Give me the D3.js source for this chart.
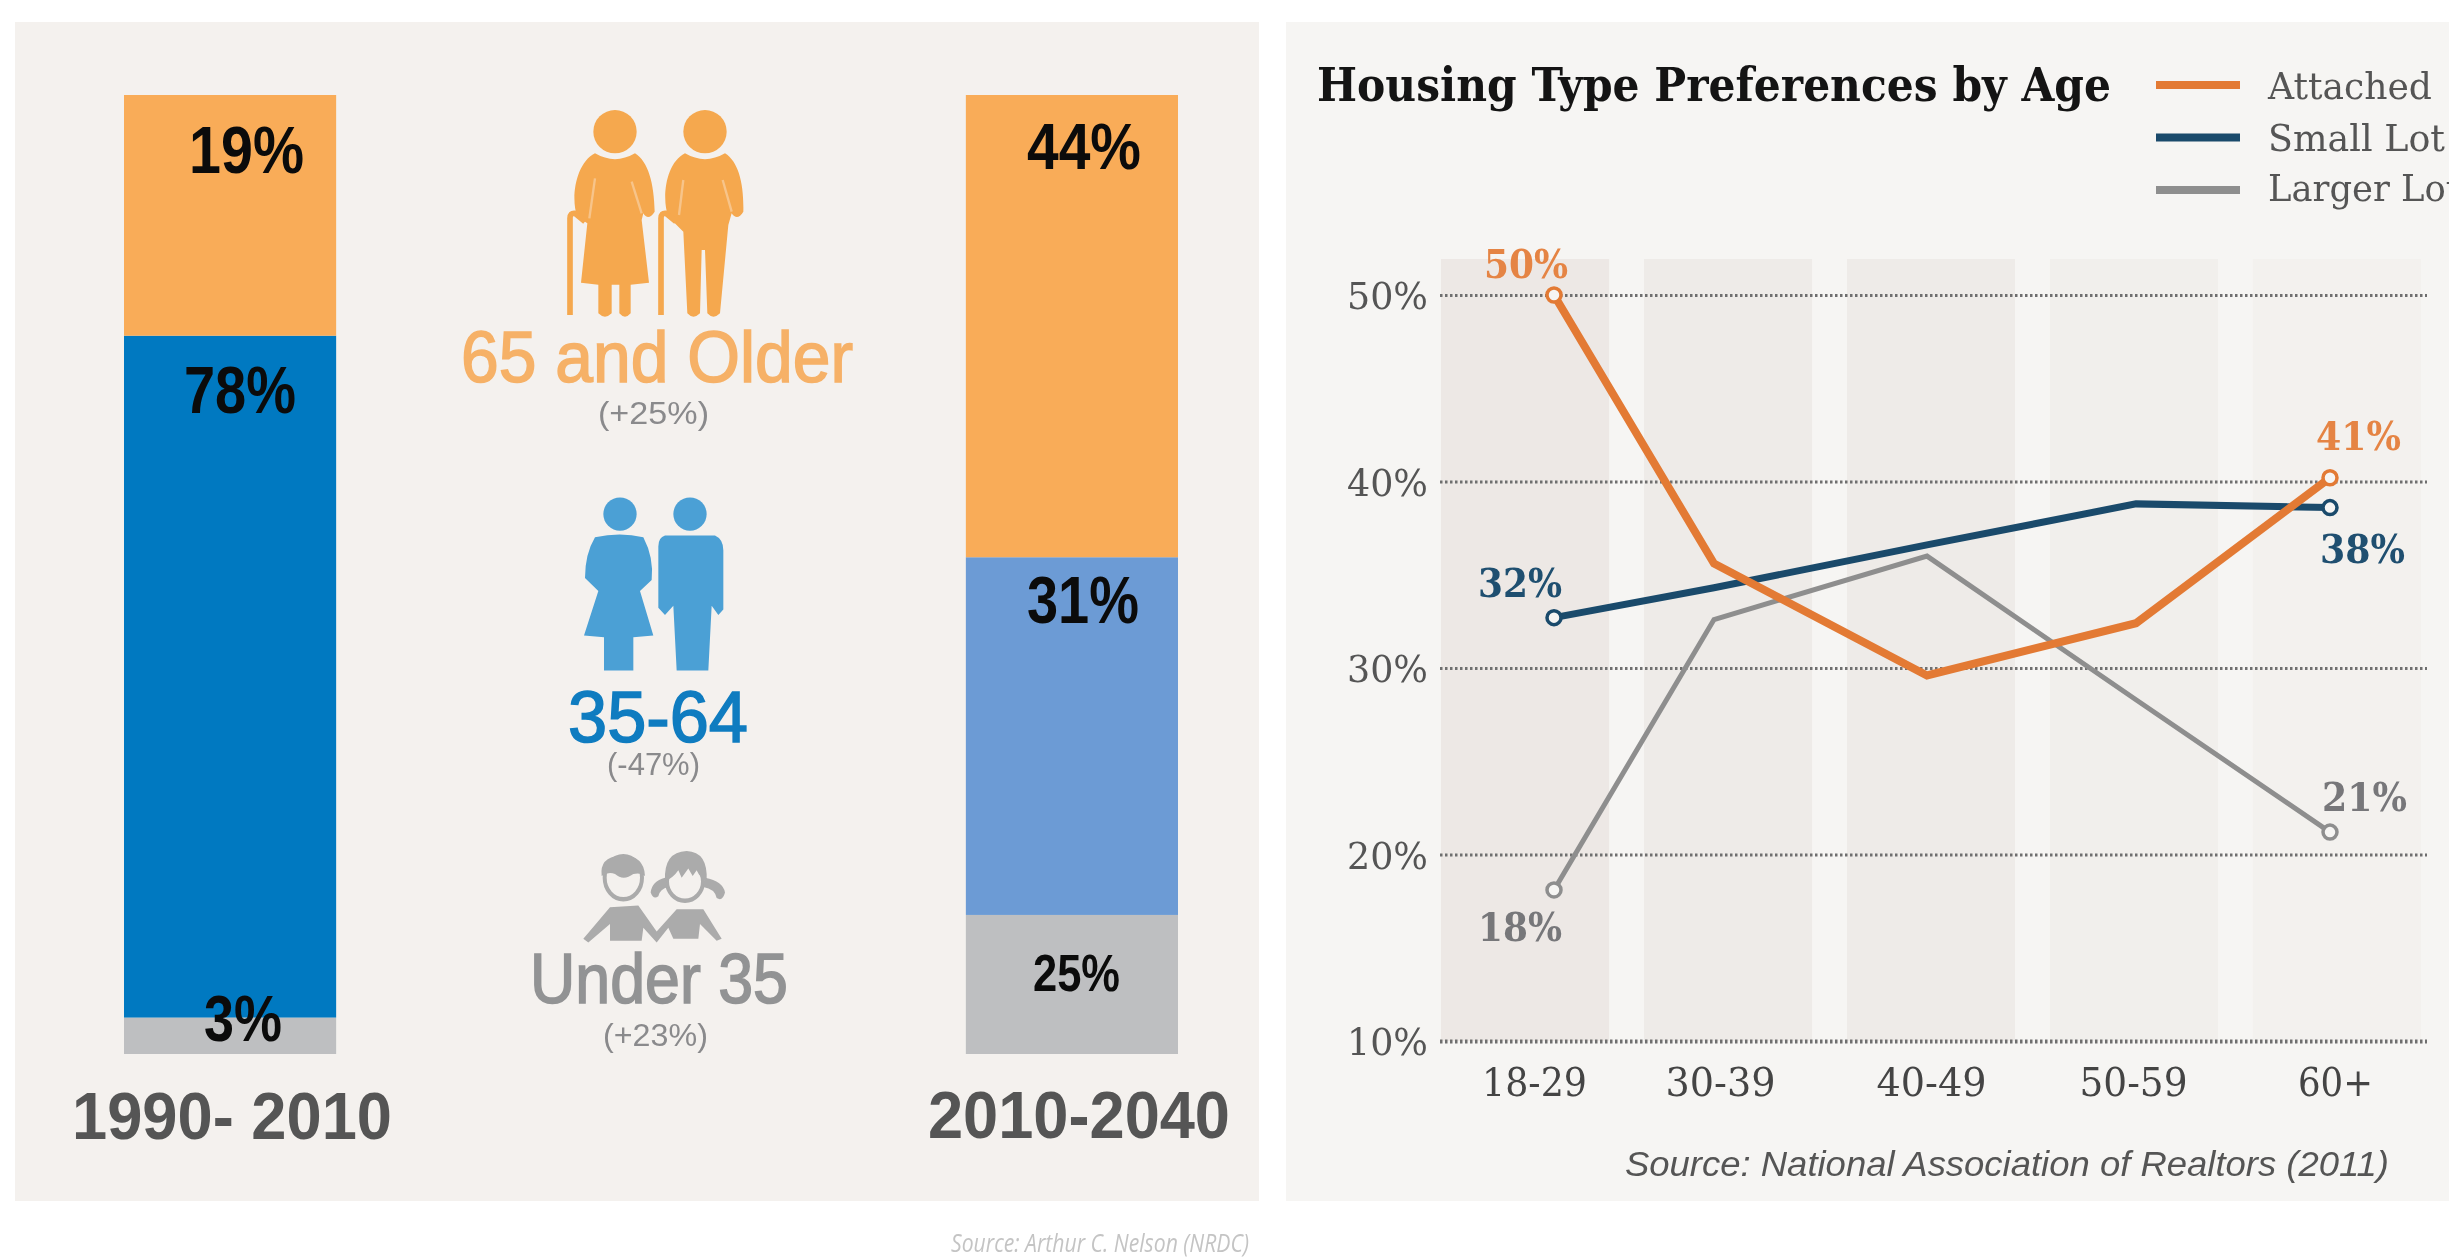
<!DOCTYPE html>
<html><head><meta charset="utf-8">
<style>html,body{margin:0;padding:0;background:#fff;overflow:hidden}svg{display:block;filter:blur(.7px)}</style>
<script src="https://cdn.jsdelivr.net/npm/d3@7"></script></head>
<body><svg id="c" width="2449" height="1260"></svg>
<script>
// ---- data: left panel ----
const periods = ["1990- 2010", "2010-2040"];
const ageGroups = ["Under 35", "35-64", "65 and Older"];
const drawnShare1990 = [3.8, 71.1, 25.1];   // bar segment sizes as drawn
const drawnShare2010 = [14.5, 37.3, 48.2];
const printedLabels1990 = ["3%", "78%", "19%"];
const printedLabels2010 = ["25%", "31%", "44%"];
const groupChanges = ["(+23%)", "(-47%)", "(+25%)"];
// ---- data: right panel ----
const ageBands = ["18-29", "30-39", "40-49", "50-59", "60+"];
const attached = [50, 35.6, 29.6, 32.4, 40.2];
const smallLot = [32.7, 34.3, 36.6, 38.8, 38.6];
const largerLot = [18.1, 32.6, 36, 28.3, 21.2];
const yTicks = [10, 20, 30, 40, 50];
const seriesNames = ["Attached", "Small Lot", "Larger Lot"];
const firstLabels = ["50%", "32%", "18%"];
const lastLabels = ["41%", "38%", "21%"];

// ---- layout ----
const svg = d3.select("#c");
const SANS = "'Liberation Sans',Arial,sans-serif", SERIF = "'DejaVu Serif',serif";
const put = (g, s, x, base, w, size, fill, weight, font, extra) => {
  const t = g.append("text").attr("x", x).attr("y", base).attr("font-size", size)
    .attr("font-family", font || SANS).attr("font-weight", weight || "normal").attr("fill", fill).text(s);
  if (w) t.attr("textLength", w).attr("lengthAdjust", "spacingAndGlyphs");
  if (extra) t.attr("font-style", extra);
  return t;
};
svg.append("rect").attr("width", 2449).attr("height", 1260).attr("fill", "#fff");
svg.append("rect").attr("x", 15).attr("y", 22).attr("width", 1244).attr("height", 1179).attr("fill", "#F4F1EE");
svg.append("rect").attr("x", 1286).attr("y", 22).attr("width", 1163).attr("height", 1179).attr("fill", "#F6F5F3");

// ---- left: stacked bars ----
const left = svg.append("g");
const xBar = d3.scaleBand().domain(periods).range([124, 1178]).paddingInner(0.748).paddingOuter(0);
const yBar = d3.scaleLinear().domain([0, 100]).range([1054, 95]);
const barColors = {
  [periods[0]]: ["#BEBFC1", "#0079C1", "#F9AC58"],
  [periods[1]]: ["#BEBFC1", "#6C9BD5", "#F9AC58"]
};
[[periods[0], drawnShare1990], [periods[1], drawnShare2010]].forEach(([p, vals]) => {
  const row = Object.fromEntries(ageGroups.map((a, i) => [a, vals[i]]));
  const stacked = d3.stack().keys(ageGroups)([row]);
  left.selectAll(null).data(stacked).join("rect")
    .attr("x", xBar(p)).attr("width", xBar.bandwidth())
    .attr("y", d => yBar(d[0][1])).attr("height", d => yBar(d[0][0]) - yBar(d[0][1]))
    .attr("fill", (d, i) => barColors[p][i]);
});
const lblPos1990 = [[204, 1041, 78, 64], [184, 413, 112, 66], [189, 173, 115, 66]];
const lblPos2010 = [[1033, 991, 87, 52], [1027, 623, 112, 66], [1027, 169, 114, 64]];
printedLabels1990.forEach((s, i) => { const p = lblPos1990[i]; put(left, s, p[0], p[1], p[2], p[3], "#0b0b0b", "bold"); });
printedLabels2010.forEach((s, i) => { const p = lblPos2010[i]; put(left, s, p[0], p[1], p[2], p[3], "#0b0b0b", "bold"); });
put(left, periods[0], 72, 1139, 320, 66, "#555", "bold");
put(left, periods[1], 928, 1138, 302, 66, "#555", "bold");

// ---- left: group captions ----
const capColors = ["#929394", "#0F7CC0", "#F6B167"];
const capPos = [[530, 1003, 258, 70], [568, 742, 180, 72], [461, 382, 392, 72]];
const changePos = [[603, 1046, 105], [607, 775, 93], [598, 424, 111]];
ageGroups.forEach((s, i) => {
  put(left, s, capPos[i][0], capPos[i][1], capPos[i][2], capPos[i][3], capColors[i])
    .attr("stroke", capColors[i]).attr("stroke-width", 1.6);
  put(left, groupChanges[i], changePos[i][0], changePos[i][1], changePos[i][2], 32, "#8a8a8c");
});

// ---- left: icons ----
const BG = "#F4F1EE";
const old = left.append("g").attr("transform", "translate(500,90) scale(.33333)").attr("fill", "#F5A84E");
[345, 615].forEach(cx => old.append("circle").attr("cx", cx).attr("cy", 125).attr("r", 65));
old.append("path").attr("d", "M285,190Q345,225 405,190C445,215 462,280 464,365Q445,395 430,370L425,390L447,578L392,584L392,670Q375,690 358,670L358,584L335,584L335,670Q315,690 295,670L295,584L243,578L262,400L232,380C212,330 225,220 285,190Z");
old.append("path").attr("d", "M555,190Q615,225 675,190C715,215 732,280 730,365Q712,395 695,370L685,405L660,670Q640,690 622,670L615,480L605,480L600,670Q580,690 562,670L550,425L505,380C485,330 495,220 555,190Z");
old.selectAll(null).data(["M285,265L268,385", "M395,275L425,370", "M550,270L537,375", "M668,270L695,365"]).join("path")
  .attr("d", d => d).attr("fill", "none").attr("stroke", "#F7C48A").attr("stroke-width", 7);
old.selectAll(null).data(["M210,675L210,385Q210,368 225,370L255,395", "M483,675L483,385Q483,368 498,370L528,395"]).join("path")
  .attr("d", d => d).attr("fill", "none").attr("stroke", "#F5A84E").attr("stroke-width", 17);

const adults = left.append("g").attr("transform", "translate(500,480) scale(.33333,.37)").attr("fill", "#4BA0D5");
adults.append("ellipse").attr("cx", 360).attr("cy", 92).attr("rx", 50).attr("ry", 45);
adults.append("ellipse").attr("cx", 570).attr("cy", 92).attr("rx", 50).attr("ry", 45);
adults.append("path").attr("d", "M285,155Q360,140 430,155Q462,210 455,270L420,300L460,420L400,425L400,515L312,515L312,425L252,420L295,300L255,265Q255,200 285,155Z");
adults.append("path").attr("d", "M495,150L645,150Q670,160 670,190L670,350L655,365L635,340L625,515L530,515L520,340L495,365L475,345L475,180Q475,155 495,150Z");

const kids = left.append("g").attr("transform", "translate(500,480) scale(.33333,.37)").attr("fill", "#ABABAB");
kids.append("ellipse").attr("cx", 370).attr("cy", 1075).attr("rx", 56).attr("ry", 58).attr("fill", "none").attr("stroke", "#ABABAB").attr("stroke-width", 12);
kids.append("path").attr("d", "M305,1070Q298,1020 360,1015Q432,1012 435,1070Q420,1060 400,1065Q370,1085 345,1065Q325,1058 305,1070Z");
kids.append("ellipse").attr("cx", 555).attr("cy", 1085).attr("rx", 54).attr("ry", 52).attr("fill", "none").attr("stroke", "#ABABAB").attr("stroke-width", 12);
kids.append("path").attr("d", "M495,1085Q490,1005 560,1003Q625,1005 620,1085Q600,1075 590,1055L578,1070L565,1050L545,1075L535,1055Q520,1075 495,1085Z");
kids.append("path").attr("d", "M495,1075Q455,1085 452,1115Q460,1135 475,1125Q480,1105 505,1100Z");
kids.append("path").attr("d", "M615,1075Q670,1085 675,1115Q668,1140 650,1130Q645,1105 610,1100Z");
kids.append("path").attr("d", "M250,1240L330,1155L415,1150L470,1220L530,1160L610,1160L665,1240L650,1245L600,1200L595,1240L520,1240L505,1210L470,1250L430,1210L425,1245L330,1245L330,1200L265,1250Z");

put(svg, "Source: Arthur C. Nelson (NRDC)", 951, 1252, 298, 25, "#c4c4c4", "normal", "'Open Sans',sans-serif", "italic");

// ---- right: line chart ----
const right = svg.append("g");
const y = d3.scaleLinear().domain([10, 50]).range([1041, 295]);
const xBand = d3.scaleBand().domain(ageBands).range([1441, 2421]).paddingInner(0.172).paddingOuter(0);
const xPoint = d3.scaleOrdinal().domain(ageBands).range([1554, 1714, 1927, 2136, 2330]);
const xTick = d3.scaleOrdinal().domain(ageBands).range([1534, 1720, 1931, 2133, 2335]);
const tickWidth = [105, 110, 110, 108, 75];
const bandFill = ["#EDE8E5", "#EEEBE8", "#EEEBE8", "#F1EFEC", "#F3F1EE"];
right.selectAll(null).data(ageBands).join("rect")
  .attr("x", d => xBand(d)).attr("width", xBand.bandwidth())
  .attr("y", 259).attr("height", 1041 - 259)
  .attr("fill", (d, i) => bandFill[i]);

const yAxis = d3.axisLeft(y).tickValues(yTicks).tickFormat(d => d + "%").tickSize(-987).tickPadding(12);
const yG = right.append("g").attr("transform", "translate(1440,0)").call(yAxis);
yG.select(".domain").remove();
yG.selectAll(".tick line").attr("stroke", "#6f6f6f").attr("stroke-width", d => d === 10 ? 4 : 3).attr("stroke-dasharray", "2.5 2.5");
yG.selectAll(".tick text").attr("font-family", SERIF).attr("font-size", 38).attr("fill", "#555")
  .attr("textLength", 81).attr("lengthAdjust", "spacingAndGlyphs").attr("dy", "0.36em");

const xAxis = d3.axisBottom(xTick).tickSize(0).tickPadding(0);
const xG = right.append("g").attr("transform", "translate(0,1041)").call(xAxis);
xG.select(".domain").remove();
xG.selectAll(".tick text").attr("font-family", SERIF).attr("font-size", 39).attr("fill", "#444")
  .attr("y", 55).attr("dy", 0)
  .attr("textLength", (d, i) => tickWidth[i]).attr("lengthAdjust", "spacingAndGlyphs");

const line = d3.line().x((d, i) => xPoint(ageBands[i])).y(d => y(d));
const seriesVals = [attached, smallLot, largerLot];
const seriesColor = ["#E37A34", "#1A4A6B", "#8E8E8E"];
const seriesWidth = [8, 7, 5];
const labelColor = ["#E58444", "#1F4F70", "#77777A"];
[2, 1, 0].forEach(i => {
  right.append("path").attr("d", line(seriesVals[i])).attr("fill", "none")
    .attr("stroke", seriesColor[i]).attr("stroke-width", seriesWidth[i]).attr("stroke-linejoin", "miter");
});
[2, 1, 0].forEach(i => {
  const v = seriesVals[i], n = v.length - 1;
  right.selectAll(null).data([[0, v[0]], [n, v[n]]]).join("circle")
    .attr("cx", d => xPoint(ageBands[d[0]])).attr("cy", d => y(d[1])).attr("r", 7)
    .attr("fill", "#F6F5F3").attr("stroke", seriesColor[i]).attr("stroke-width", 3.5);
});
const firstPos = [[1484, 278], [1478, 597], [1478, 941]];
const lastPos = [[2316, 450], [2320, 563], [2322, 811]];
seriesNames.forEach((s, i) => {
  put(right, firstLabels[i], firstPos[i][0], firstPos[i][1], 84, 39, labelColor[i], "bold", SERIF);
  put(right, lastLabels[i], lastPos[i][0], lastPos[i][1], 85, 39, labelColor[i], "bold", SERIF);
});

// ---- right: title + legend ----
put(right, "Housing Type Preferences by Age", 1317, 101, 794, 46, "#141414", "bold", SERIF);
const legendY = [85, 137.5, 190], legendBase = [99, 151, 201], legendW = [164, 177, 192];
seriesNames.forEach((s, i) => {
  right.append("line").attr("x1", 2156).attr("x2", 2240).attr("y1", legendY[i]).attr("y2", legendY[i])
    .attr("stroke", seriesColor[i]).attr("stroke-width", 8);
  put(right, s, 2268, legendBase[i], legendW[i], 38, "#555", "normal", SERIF);
});
put(right, "Source: National Association of Realtors (2011)", 1625, 1176, 764, 35, "#555", "normal", SANS, "italic");
</script></body></html>
